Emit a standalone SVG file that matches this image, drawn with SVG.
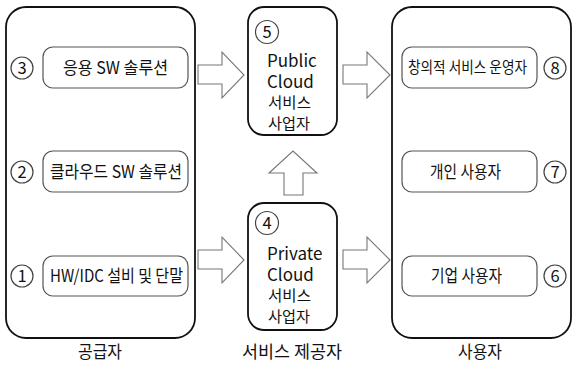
<svg xmlns="http://www.w3.org/2000/svg" width="573" height="365" viewBox="0 0 573 365">
<style>
  text { font-family: "Noto Sans CJK KR", "Noto Sans", sans-serif; fill: #111; }
  .outer { fill: #fff; stroke: #111; stroke-width: 1.8; }
  .inner { fill: #fff; stroke: #555; stroke-width: 1.2; }
  .num { fill: #fff; stroke: #444; stroke-width: 1.2; }
  .arrow { fill: #fff; stroke: #777; stroke-width: 1.1; stroke-linejoin: miter; }
  .t { font-size: 17px; text-anchor: middle; }
  .n { font-size: 16.5px; text-anchor: middle; }
  .m { font-size: 17px; }
  .k { font-size: 14.5px; }
  .lbl { font-size: 17px; text-anchor: middle; }
</style>
<rect width="573" height="365" fill="#fff"/>

<g id="supplier">
  <rect class="outer" x="6" y="7" width="189" height="331" rx="20"/>
  <text class="lbl" x="100" y="358" textLength="44" lengthAdjust="spacingAndGlyphs">공급자</text>
</g>
<g id="sup3">
  <circle class="num" cx="22" cy="68" r="11"/>
  <text class="n" x="22" y="74">3</text>
  <rect class="inner" x="43" y="47" width="145" height="41" rx="10"/>
  <text class="t" x="115.5" y="73.5" textLength="105" lengthAdjust="spacingAndGlyphs">응용 SW 솔루션</text>
</g>
<g id="sup2">
  <circle class="num" cx="22" cy="172" r="11"/>
  <text class="n" x="22" y="178">2</text>
  <rect class="inner" x="43" y="151" width="145" height="41" rx="10"/>
  <text class="t" x="116" y="177.5" textLength="132" lengthAdjust="spacingAndGlyphs">클라우드 SW 솔루션</text>
</g>
<g id="sup1">
  <circle class="num" cx="22" cy="276" r="11"/>
  <text class="n" x="22" y="282">1</text>
  <rect class="inner" x="43" y="256" width="145" height="40" rx="10"/>
  <text class="t" x="116.5" y="282" textLength="133" lengthAdjust="spacingAndGlyphs">HW/IDC 설비 및 단말</text>
</g>

<g id="public">
  <rect class="outer" x="248" y="7" width="89" height="128" rx="16"/>
  <circle class="num" cx="267" cy="32" r="11.5"/>
  <text class="n" x="267" y="38">5</text>
  <text class="m" x="267" y="67">Public</text>
  <text class="m" x="267" y="88">Cloud</text>
  <text class="k" x="268" y="108" textLength="43" lengthAdjust="spacingAndGlyphs">서비스</text>
  <text class="k" x="268" y="129" textLength="42" lengthAdjust="spacingAndGlyphs">사업자</text>
</g>
<g id="private">
  <rect class="outer" x="248" y="203" width="89" height="127" rx="16"/>
  <circle class="num" cx="267" cy="223" r="11.5"/>
  <text class="n" x="267" y="229">4</text>
  <text class="m" x="267" y="260">Private</text>
  <text class="m" x="267" y="281">Cloud</text>
  <text class="k" x="268" y="301" textLength="43" lengthAdjust="spacingAndGlyphs">서비스</text>
  <text class="k" x="268" y="322" textLength="42" lengthAdjust="spacingAndGlyphs">사업자</text>
  <text class="lbl" x="292" y="358" textLength="100" lengthAdjust="spacingAndGlyphs">서비스 제공자</text>
</g>

<g id="users">
  <rect class="outer" x="392" y="7" width="179" height="331" rx="20"/>
  <text class="lbl" x="480" y="358" textLength="44" lengthAdjust="spacingAndGlyphs">사용자</text>
</g>
<g id="user8">
  <rect class="inner" x="402" y="47" width="135" height="41" rx="10"/>
  <text class="t" x="467.5" y="73" style="font-size:15.5px" textLength="119" lengthAdjust="spacingAndGlyphs">창의적 서비스 운영자</text>
  <circle class="num" cx="555" cy="68" r="11"/>
  <text class="n" x="555" y="74">8</text>
</g>
<g id="user7">
  <rect class="inner" x="402" y="151" width="135" height="41" rx="10"/>
  <text class="t" x="465.5" y="177.5" textLength="71" lengthAdjust="spacingAndGlyphs">개인 사용자</text>
  <circle class="num" cx="555" cy="172" r="11"/>
  <text class="n" x="555" y="178">7</text>
</g>
<g id="user6">
  <rect class="inner" x="402" y="256" width="135" height="40" rx="10"/>
  <text class="t" x="466.5" y="282" textLength="71" lengthAdjust="spacingAndGlyphs">기업 사용자</text>
  <circle class="num" cx="555" cy="276" r="11"/>
  <text class="n" x="555" y="282">6</text>
</g>

<g id="connectors">
  <polygon class="arrow" points="198,65 222,65 222,52 244,75 222,98 222,84 198,84"/>
  <polygon class="arrow" points="198,250 222,250 222,237 244,260 222,283 222,269 198,269"/>
  <polygon class="arrow" points="343,65 367,65 367,52 390,75 367,98 367,84 343,84"/>
  <polygon class="arrow" points="343,250 367,250 367,237 390,260 367,283 367,269 343,269"/>
  <polygon class="arrow" points="284,195 284,173 269,173 293,151 317,173 303,173 303,195"/>
</g>
</svg>
